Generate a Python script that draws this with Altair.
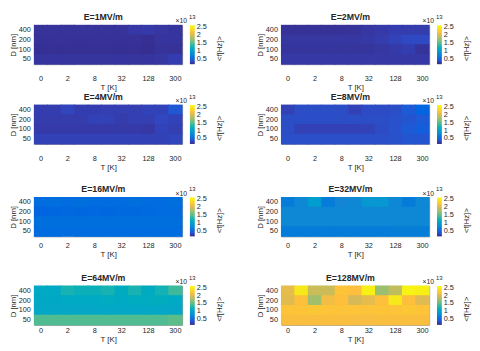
import altair as alt
import pandas as pd

# Temperature columns (only every other is labelled) and film thickness rows
T_labels = ["0", "1", "2", "4", "8", "16", "32", "64", "128", "256", "300"]
T_ticks = ["0", "2", "8", "32", "128", "300"]
D_labels = ["400", "200", "100", "50"]

E_titles = ["E=1MV/m", "E=2MV/m", "E=4MV/m", "E=8MV/m",
            "E=16MV/m", "E=32MV/m", "E=64MV/m", "E=128MV/m"]

# <f> in units of 1e13 Hz ; rows: D = 400, 200, 100, 50
f_E1 = [[0.22, 0.22, 0.22, 0.22, 0.22, 0.22, 0.22, 0.25, 0.26, 0.24, 0.23],
        [0.21, 0.21, 0.21, 0.21, 0.21, 0.21, 0.21, 0.21, 0.20, 0.23, 0.23],
        [0.20, 0.20, 0.20, 0.20, 0.20, 0.20, 0.20, 0.20, 0.19, 0.22, 0.21],
        [0.23, 0.23, 0.23, 0.23, 0.23, 0.23, 0.23, 0.23, 0.23, 0.24, 0.28]]
f_E2 = [[0.21, 0.21, 0.21, 0.21, 0.21, 0.22, 0.24, 0.26, 0.28, 0.27, 0.27],
        [0.24, 0.24, 0.24, 0.24, 0.24, 0.24, 0.25, 0.27, 0.31, 0.34, 0.34],
        [0.23, 0.23, 0.23, 0.23, 0.23, 0.23, 0.23, 0.24, 0.26, 0.28, 0.22],
        [0.25, 0.25, 0.25, 0.25, 0.25, 0.25, 0.25, 0.25, 0.25, 0.25, 0.25]]
f_E4 = [[0.28, 0.28, 0.32, 0.28, 0.28, 0.29, 0.29, 0.29, 0.31, 0.31, 0.41],
        [0.27, 0.27, 0.27, 0.27, 0.30, 0.30, 0.27, 0.29, 0.29, 0.33, 0.31],
        [0.26, 0.26, 0.26, 0.26, 0.26, 0.26, 0.26, 0.26, 0.25, 0.31, 0.29],
        [0.30, 0.30, 0.30, 0.30, 0.30, 0.30, 0.30, 0.30, 0.30, 0.30, 0.32]]
f_E8 = [[0.30, 0.36, 0.36, 0.36, 0.36, 0.30, 0.35, 0.35, 0.36, 0.42, 0.48],
        [0.36, 0.36, 0.36, 0.36, 0.36, 0.36, 0.36, 0.36, 0.38, 0.40, 0.42],
        [0.36, 0.30, 0.30, 0.30, 0.30, 0.30, 0.31, 0.35, 0.38, 0.42, 0.44],
        [0.37, 0.37, 0.37, 0.37, 0.37, 0.37, 0.37, 0.37, 0.38, 0.40, 0.40]]
f_E16 = [[0.54, 0.56, 0.54, 0.56, 0.54, 0.54, 0.54, 0.56, 0.54, 0.54, 0.56],
         [0.48, 0.50, 0.51, 0.50, 0.51, 0.50, 0.51, 0.51, 0.52, 0.54, 0.54],
         [0.56, 0.56, 0.56, 0.56, 0.56, 0.56, 0.56, 0.56, 0.56, 0.56, 0.56],
         [0.54, 0.54, 0.54, 0.54, 0.54, 0.54, 0.54, 0.54, 0.54, 0.54, 0.54]]
f_E32 = [[0.68, 0.79, 0.98, 0.68, 0.77, 0.79, 0.92, 0.92, 0.79, 0.68, 0.79],
         [0.79, 0.79, 0.79, 0.79, 0.79, 0.79, 0.79, 0.79, 0.79, 0.79, 0.79],
         [0.79, 0.79, 0.79, 0.79, 0.79, 0.79, 0.79, 0.79, 0.79, 0.79, 0.79],
         [0.68, 0.68, 0.68, 0.68, 0.68, 0.68, 0.68, 0.68, 0.70, 0.70, 0.70]]
f_E64 = [[1.10, 1.10, 1.24, 1.20, 1.20, 1.24, 1.13, 1.24, 1.13, 1.22, 1.40],
         [1.09, 1.09, 1.10, 1.10, 1.10, 1.14, 1.10, 1.14, 1.14, 1.16, 1.10],
         [1.08, 1.08, 1.08, 1.08, 1.08, 1.08, 1.08, 1.08, 1.08, 1.08, 1.08],
         [1.46, 1.46, 1.46, 1.46, 1.46, 1.46, 1.46, 1.46, 1.46, 1.46, 1.50]]
f_E128 = [[2.05, 2.43, 1.93, 1.93, 2.18, 2.15, 2.50, 1.72, 1.88, 2.52, 2.50],
          [2.03, 2.15, 1.75, 2.10, 2.15, 1.98, 2.05, 2.15, 2.43, 2.15, 2.02],
          [2.18, 2.18, 2.21, 2.18, 2.18, 2.18, 2.18, 2.18, 2.18, 2.21, 2.18],
          [2.13, 2.13, 2.13, 2.13, 2.13, 2.12, 2.12, 2.13, 2.13, 2.13, 2.13]]

panel_values = [f_E1, f_E2, f_E4, f_E8, f_E16, f_E32, f_E64, f_E128]

cbar_ticks = [0.5, 1, 1.5, 2, 2.5]
cbar_domain = [0.16, 2.6]
parula = ["#352a87", "#3243ba", "#0363e1", "#0d75dc", "#1485d4", "#0998d1",
          "#06a7c6", "#15b1b4", "#38b99e", "#65be86", "#92bf73", "#b7bd64",
          "#d9ba56", "#fdbe3d", "#f9d32a", "#f5eb18", "#f9fb0e"]

FONT = "Liberation Sans"
INK = "#262626"

# per-row x-axis label padding (as in the reference)
row_label_pad = [11, 11, 5, 2]


def txt(s, size, **kw):
    return alt.Chart(pd.DataFrame({"txt": [s]})).mark_text(
        font=FONT, fontSize=size, color=INK, **kw)


def panel(title, grid, lab_pad):
    recs = []
    for i, d in enumerate(D_labels):
        for j, t in enumerate(T_labels):
            recs.append({"T": t, "D": d, "f": grid[i][j]})
    df = pd.DataFrame(recs)
    cscale = alt.Scale(domain=cbar_domain, range=parula, clamp=True)
    heat = alt.Chart(df).mark_rect(
        width=alt.RelativeBandSize(band=1.06),
        height=alt.RelativeBandSize(band=1.1)).encode(
        x=alt.X("T:O", sort=T_labels,
                scale=alt.Scale(paddingInner=0, paddingOuter=0),
                axis=alt.Axis(values=T_ticks, title="T [K]", labelAngle=0,
                              ticks=False, domain=False, grid=False,
                              labelPadding=lab_pad,
                              titlePadding=2, labelFontSize=7.5,
                              titleFontSize=8,
                              labelFont=FONT, titleFont=FONT,
                              labelColor=INK, titleColor=INK,
                              titleFontWeight="normal")),
        y=alt.Y("D:O", sort=D_labels,
                scale=alt.Scale(paddingInner=0, paddingOuter=0),
                axis=alt.Axis(title="D [nm]", ticks=False, domain=False,
                              grid=False, labelPadding=4, titlePadding=1,
                              labelFontSize=7.5, titleFontSize=8,
                              labelFont=FONT, titleFont=FONT,
                              labelColor=INK, titleColor=INK,
                              titleFontWeight="normal")),
        color=alt.Color("f:Q", scale=cscale,
                        legend=alt.Legend(type="gradient", title=None,
                                          values=cbar_ticks,
                                          labelExpr="'' + datum.value",
                                          gradientLength=40,
                                          gradientThickness=5, offset=8,
                                          labelOffset=2, labelFontSize=7.5,
                                          labelOverlap=False, labelFont=FONT,
                                          labelColor=INK,
                                          gradientStrokeWidth=0)),
    )
    ttl = txt(title, 9, fontWeight="bold", align="center",
              baseline="alphabetic").encode(
        text="txt:N", x=alt.value(71), y=alt.value(-5.5))
    exp_base = txt("×10", 7, align="right", baseline="alphabetic").encode(
        text="txt:N", x=alt.value(157), y=alt.value(-2))
    exp_sup = txt("13", 6, align="left", baseline="alphabetic").encode(
        text="txt:N", x=alt.value(159), y=alt.value(-6.5))
    cb_title = txt("<f[Hz]>", 8, align="center", baseline="middle",
                   angle=270).encode(
        text="txt:N", x=alt.value(191), y=alt.value(24))
    return alt.layer(heat, ttl, exp_base, exp_sup, cb_title).properties(
        width=152, height=40)


panels = [panel(t, v, row_label_pad[k // 2])
          for k, (t, v) in enumerate(zip(E_titles, panel_values))]


def indep(c):
    return c.resolve_scale(color="independent").resolve_legend(
        color="independent")


rows = [indep(alt.hconcat(panels[2 * k], panels[2 * k + 1], spacing=31))
        for k in range(4)]
top = indep(alt.vconcat(rows[0], rows[1], spacing=0))
bottom = indep(alt.vconcat(rows[2], rows[3], spacing=15))
chart = indep(alt.vconcat(top, bottom, spacing=13)).configure_view(
    stroke="#999999", strokeWidth=1).properties(padding=0)

chart.save("out.html", embed_options={"renderer": "svg", "actions": False})
